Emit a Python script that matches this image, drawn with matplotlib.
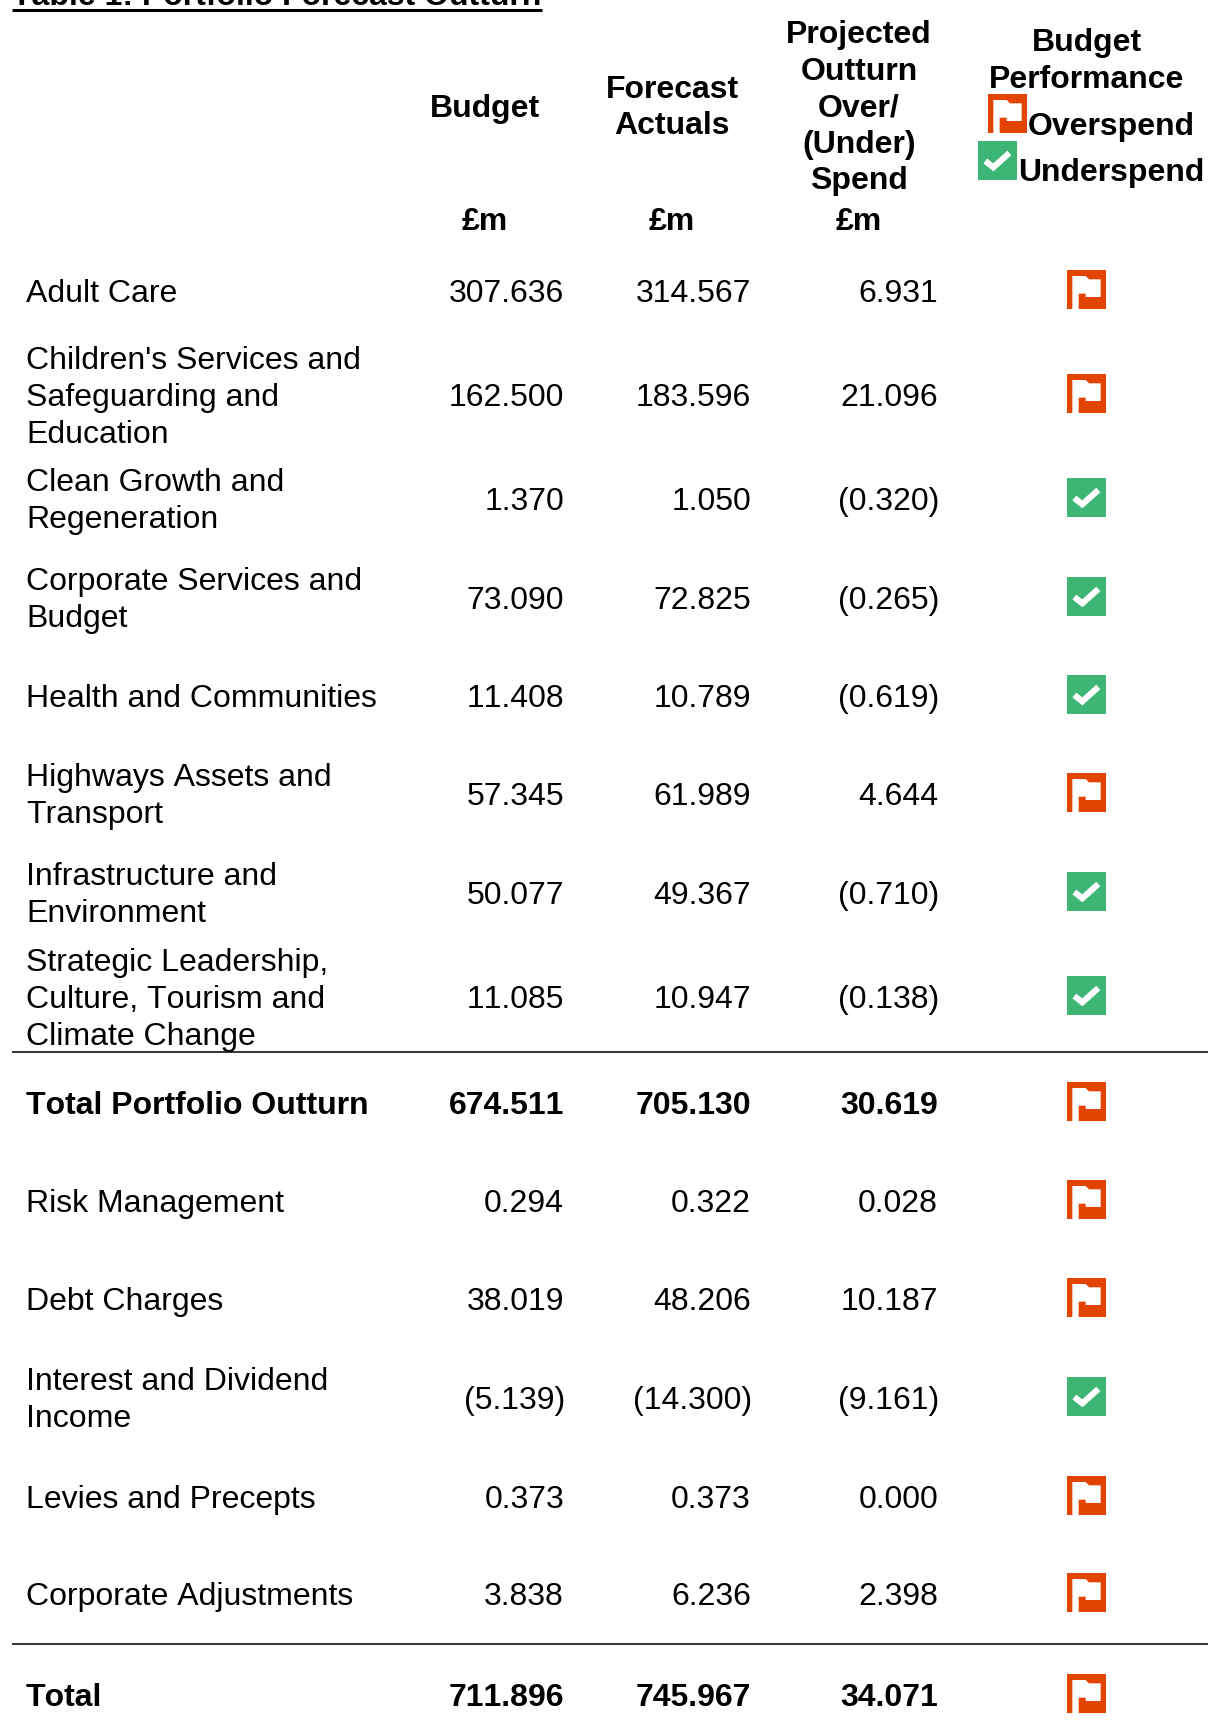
import matplotlib
matplotlib.use("Agg")
from matplotlib import pyplot as plt
from matplotlib.patches import Rectangle, Polygon

plt.rcParams['font.family'] = ['Liberation Sans', 'DejaVu Sans']
plt.rcParams['text.kerning_factor'] = 6

title = "Table 1: Portfolio Forecast Outturn"
rows = [
    ["Adult Care"],
    ["Children's Services and", "Safeguarding and", "Education"],
    ["Clean Growth and", "Regeneration"],
    ["Corporate Services and", "Budget"],
    ["Health and Communities"],
    ["Highways Assets and", "Transport"],
    ["Infrastructure and", "Environment"],
    ["Strategic Leadership,", "Culture, Tourism and", "Climate Change"],
    ["Total Portfolio Outturn"],
    ["Risk Management"],
    ["Debt Charges"],
    ["Interest and Dividend", "Income"],
    ["Levies and Precepts"],
    ["Corporate Adjustments"],
    ["Total"],
]
budget = ["307.636", "162.500", "1.370", "73.090", "11.408", "57.345", "50.077", "11.085",
          "674.511", "0.294", "38.019", "(5.139)", "0.373", "3.838", "711.896"]
forecast = ["314.567", "183.596", "1.050", "72.825", "10.789", "61.989", "49.367", "10.947",
            "705.130", "0.322", "48.206", "(14.300)", "0.373", "6.236", "745.967"]
variance = ["6.931", "21.096", "(0.320)", "(0.265)", "(0.619)", "4.644", "(0.710)", "(0.138)",
            "30.619", "0.028", "10.187", "(9.161)", "0.000", "2.398", "34.071"]
status = ["over", "over", "under", "under", "under", "over", "under", "under",
          "over", "over", "over", "under", "over", "over", "over"]
bold_rows = ["Total Portfolio Outturn", "Total"]

# layout, in pixels of the full picture
row_y = [291, 395, 499, 598, 696, 794, 893, 997, 1103, 1201, 1299, 1398, 1497, 1594, 1695]
icon_y = [290, 394, 498, 597, 695, 793, 892, 996, 1102, 1200, 1298, 1397, 1496, 1593, 1694]
col_right = [564, 751, 938]
LINE = 37
FS = 23  # 32 px at dpi 100
ORANGE = "#E34402"
GREEN = "#3DB675"


def baseline(y):
    return y + 11.5


def flag(ax, x, y):
    s = 39 / 117
    ax.add_patch(Rectangle((x, y), 39, 39, fc=ORANGE, ec="none"))
    shape = [(16, 18), (56, 18), (66, 28), (101, 28), (101, 81), (56, 81),
             (56, 71), (35, 71), (35, 117), (16, 117)]
    ax.add_patch(Polygon([(x + a * s, y + b * s) for a, b in shape], fc="white", ec="none"))


def check(ax, x, y):
    s = 39 / 117
    ax.add_patch(Rectangle((x, y), 39, 39, fc=GREEN, ec="none"))
    ax.plot([x + 22 * s, x + 46 * s, x + 94 * s], [y + 60 * s, y + 79 * s, y + 36 * s],
            color="white", lw=4.4, solid_capstyle="butt", solid_joinstyle="miter")


def icon(ax, kind, x, y):
    if kind == "over":
        flag(ax, x, y)
    else:
        check(ax, x, y)


fig = plt.figure(figsize=(12.08, 17.34), dpi=100)
ax = fig.add_axes([0, 0, 1, 1])
ax.set_xlim(0, 1208)
ax.set_ylim(1734, 0)
ax.axis("off")

ax.text(12, 5, title, fontsize=FS, fontweight="bold", va="baseline")
ax.plot([12, 542], [10, 10], color="black", lw=2.2, solid_capstyle="butt")

# header
headers = [
    (485, [(106, "Budget"), (219, "£m")]),
    (672, [(87, "Forecast"), (123, "Actuals"), (219, "£m")]),
    (859, [(32, "Projected"), (69, "Outturn"), (105, "Over/"), (142, "(Under)"),
           (178, "Spend"), (219, "£m")]),
    (1087, [(40, "Budget"), (77, "Performance")]),
]
for cx, lines in headers:
    for y, s in lines:
        ax.text(cx, baseline(y), s, fontsize=FS, fontweight="bold", ha="center", va="baseline")

ax.text(1028, baseline(124), "Overspend", fontsize=FS, fontweight="bold", va="baseline")
ax.text(1018, baseline(170), "Underspend", fontsize=FS, fontweight="bold", va="baseline")
icon(ax, "over", 988, 94)
icon(ax, "under", 978, 141)

# body
for i, lines in enumerate(rows):
    weight = "bold" if lines[0] in bold_rows else "normal"
    for j, s in enumerate(lines):
        y = row_y[i] + (j - (len(lines) - 1) / 2) * LINE
        ax.text(26, baseline(y) - 0.6, s, fontsize=FS, fontweight=weight, va="baseline")
    for col, vals in zip(col_right, [budget, forecast, variance]):
        v = vals[i]
        ax.text(col + (1 if v.endswith(")") else 0), baseline(row_y[i]) - 0.4, v,
                fontsize=FS, fontweight=weight, ha="right", va="baseline")
    icon(ax, status[i], 1067, icon_y[i] - 20)

for y in [1051.5, 1643.5]:
    ax.plot([12, 1208], [y, y], color="black", lw=1.1, solid_capstyle="butt")

fig.savefig("out.png", dpi=100)
